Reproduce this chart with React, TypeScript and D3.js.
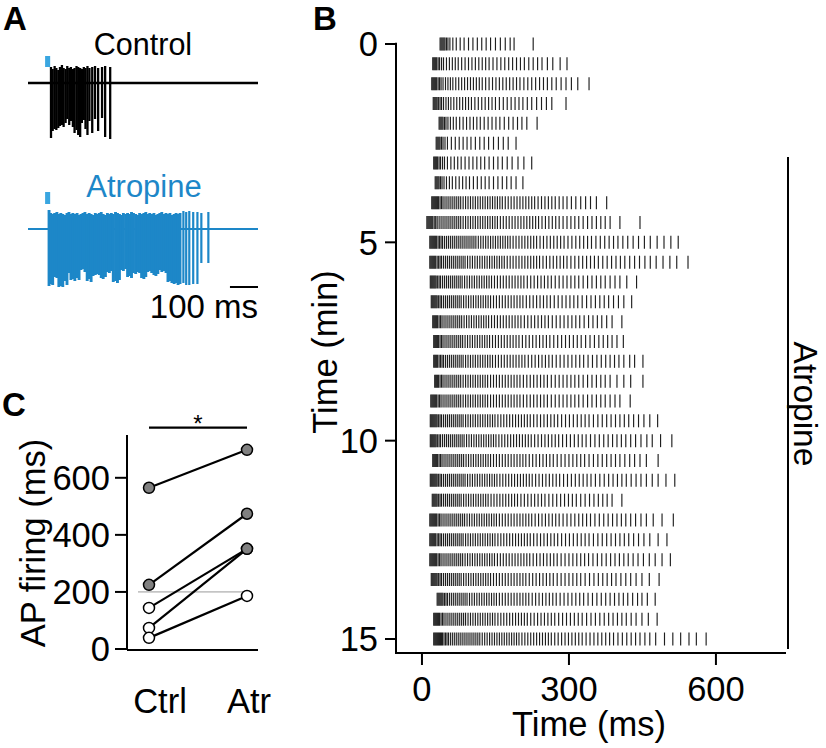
import React from 'react';
import * as d3 from 'd3';

// ---------- Panel A: example traces ----------
const traceWindowMs = [0, 820];
const stimWindowMs = [61, 79];
const scaleBarMs = 100;

const controlSpikeTimes = [82,88,95,101,108,114,121,127,134,140,147,153,160,166,173,179,186,192,199,205,212,219,229,239,250,264,275,293];
const controlSpikePeaks = [16,14,17,15,13,16,18,15,14,17,15,16,14,15,17,16,15,14,16,15,17,15,16,17,15,16,17,16];
const controlSpikeTroughs = [-55,-48,-46,-47,-45,-43,-42,-44,-40,-36,-42,-38,-44,-50,-47,-52,-54,-40,-37,-46,-52,-38,-50,-36,-48,-35,-54,-56];

const atropineSpikeTimes = [75,81,88,95,103,110,117,124,131,139,146,153,160,167,175,182,189,196,203,211,218,225,232,240,247,254,261,268,276,283,290,297,304,312,319,326,333,340,348,355,362,369,376,384,391,398,405,413,420,427,434,441,449,456,463,470,477,485,492,499,506,513,521,528,535,542,554,564,575,589,604,618,643];
const atropineSpikePeaks = [19,16,15,16,17,15,16,15,14,16,17,15,16,15,16,14,15,16,17,15,16,15,14,16,15,16,17,15,14,16,15,16,15,17,16,15,14,16,15,16,15,17,16,15,14,16,15,16,17,15,16,15,16,14,15,16,17,15,16,15,16,14,15,16,15,16,18,17,18,17,17,16,17];
const atropineSpikeTroughs = [-57,-55,-56,-48,-49,-58,-57,-58,-52,-56,-44,-51,-50,-52,-49,-51,-41,-40,-43,-52,-50,-53,-47,-46,-45,-46,-49,-50,-48,-43,-44,-42,-53,-52,-54,-51,-41,-42,-40,-48,-47,-49,-44,-45,-43,-44,-49,-50,-48,-43,-42,-44,-46,-47,-45,-41,-43,-42,-44,-53,-52,-54,-55,-54,-56,-55,-54,-56,-56,-55,-55,-34,-34];

// ---------- Panel B: raster ----------
const rasterRowMinutes = [0,0.5,1,1.5,2,2.5,3,3.5,4,4.5,5,5.5,6,6.5,7,7.5,8,8.5,9,9.5,10,10.5,11,11.5,12,12.5,13,13.5,14,14.5,15];
const rasterSpikes: number[][] = [
  [37,39,41,43,45,47,50,53,57,63,70,78,86,95,104,113,122,131,140,150,160,170,180,188,227],
  [22,24,26,28,30,33,36,40,44,50,56,62,68,74,81,88,95,102,109,116,123,130,137,145,153,161,169,177,185,193,201,209,218,227,236,245,256,267,282,296],
  [20,22,24,26,28,30,33,36,39,43,48,53,58,63,69,75,81,87,93,99,105,111,117,123,130,137,144,151,158,165,172,179,186,193,200,208,216,224,232,240,248,256,265,274,284,294,305,318,341],
  [23,25,27,29,31,34,37,40,44,49,54,59,65,71,77,83,89,95,101,108,115,122,129,136,143,150,158,166,174,182,190,198,206,215,224,234,244,254,265,294],
  [35,37,39,41,43,46,49,53,58,64,70,77,84,91,98,105,112,119,127,135,143,151,159,168,177,186,195,204,214,235],
  [29,31,33,35,37,40,43,47,52,60,68,76,84,92,100,109,118,127,136,146,156,166,176,192],
  [24,26,28,30,32,35,38,42,46,52,59,66,73,80,88,96,104,112,120,128,137,146,155,164,174,184,196,208,224],
  [27,29,31,33,35,38,41,45,50,56,62,69,76,83,90,97,105,113,121,129,137,146,155,164,173,182,192,206],
  [20,22,24,26,28,30,32,34,37,40,43,47,51,55,59,63,67,71,75,79,84,89,94,99,104,109,114,119,124,129,134,139,144,149,154,159,164,170,176,182,188,194,200,206,212,218,224,230,237,244,251,258,265,272,280,288,296,305,314,324,334,344,356,377],
  [10,12,14,16,18,20,22,25,28,31,35,39,43,47,51,55,59,63,67,71,75,79,84,89,94,99,104,109,114,119,124,129,134,139,144,149,154,160,166,172,178,184,190,196,202,208,214,220,226,232,238,245,252,259,266,273,280,288,296,304,312,320,329,338,347,356,365,374,384,404,445],
  [16,18,20,22,24,26,28,30,33,36,39,42,46,50,54,58,62,66,70,74,78,82,86,90,94,98,102,106,110,115,120,125,130,135,140,145,150,155,160,165,170,175,180,186,192,198,204,210,216,222,228,234,241,248,255,262,269,276,283,290,298,306,314,322,330,338,346,355,364,373,382,391,400,410,420,431,442,454,466,480,494,508,523],
  [16,18,20,22,24,26,28,31,34,37,40,44,48,52,56,60,64,68,72,76,80,84,88,93,98,103,108,113,118,123,128,133,138,143,148,153,158,163,168,174,180,186,192,198,204,210,216,222,228,234,240,247,254,261,268,275,282,289,296,304,312,320,328,336,344,352,360,369,378,387,396,405,414,424,434,444,455,466,478,492,506,520,543],
  [17,19,21,23,25,27,29,32,35,38,42,46,50,54,58,62,66,70,74,78,82,87,92,97,102,107,112,117,122,127,132,137,142,148,154,160,166,172,178,184,190,196,202,208,215,222,229,236,243,250,257,264,272,280,288,296,304,312,320,329,338,347,356,365,374,384,394,404,418,438],
  [19,21,23,25,27,29,31,34,37,40,44,48,52,56,60,64,68,72,76,80,85,90,95,100,105,110,115,120,125,130,135,140,146,152,158,164,170,176,182,188,194,200,206,213,220,227,234,241,248,255,262,270,278,286,294,302,310,318,327,336,345,354,363,372,381,391,401,412,428],
  [22,24,26,28,30,32,35,38,41,45,49,53,57,61,65,69,73,77,81,86,91,96,101,106,111,116,121,126,131,136,142,148,154,160,166,172,178,184,190,196,202,209,216,223,230,237,244,251,258,266,274,282,290,298,306,314,322,331,340,349,358,367,377,388,408],
  [24,26,28,30,32,34,37,40,43,47,51,55,59,63,67,71,75,79,83,88,93,98,103,108,113,118,123,128,133,138,144,150,156,162,168,174,180,186,192,198,205,212,219,226,233,240,247,254,261,269,277,285,293,301,309,317,325,334,343,352,361,370,379,388,398,411],
  [24,26,28,30,32,35,38,41,44,48,52,56,60,64,68,72,76,80,84,89,94,99,104,109,114,119,124,129,134,139,144,150,156,162,168,174,180,186,192,198,204,210,217,224,231,238,245,252,259,266,274,282,290,298,306,314,322,330,339,348,357,366,375,384,393,402,412,424,434,451],
  [26,28,30,32,34,37,40,43,47,51,55,59,63,67,71,75,79,84,89,94,99,104,109,114,119,124,129,134,140,146,152,158,164,170,176,182,188,194,200,207,214,221,228,235,242,249,256,264,272,280,288,296,304,312,320,329,338,347,356,365,374,384,398,412,426,451],
  [18,20,22,24,26,28,30,33,36,39,43,47,51,55,59,63,67,71,75,79,84,89,94,99,104,109,114,119,124,129,134,140,146,152,158,164,170,176,182,188,194,200,207,214,221,228,235,242,249,256,264,272,280,288,296,304,312,320,329,338,347,356,365,374,384,394,404,425],
  [17,19,21,23,25,27,29,31,34,37,40,44,48,52,56,60,64,68,72,76,80,84,89,94,99,104,109,114,119,124,129,134,139,144,149,155,161,167,173,179,185,191,197,203,209,215,221,228,235,242,249,256,263,270,277,285,293,301,309,317,325,333,341,350,359,368,377,386,395,404,413,422,432,442,453,465,481],
  [17,19,21,23,25,27,29,32,35,38,42,46,50,54,58,62,66,70,74,78,82,86,91,96,101,106,111,116,121,126,131,136,141,146,151,157,163,169,175,181,187,193,199,205,211,217,223,230,237,244,251,258,265,272,279,287,295,303,311,319,327,335,344,353,362,371,380,389,398,407,416,426,436,447,459,470,487,510],
  [22,24,26,28,30,32,35,38,41,45,49,53,57,61,65,69,73,77,81,85,90,95,100,105,110,115,120,125,130,135,140,146,152,158,164,170,176,182,188,194,200,206,212,219,226,233,240,247,254,261,268,276,284,292,300,308,316,324,332,341,350,359,368,377,386,395,404,414,424,434,445,458,482],
  [17,19,21,23,25,27,29,31,34,37,40,44,48,52,56,60,64,68,72,76,80,84,88,93,98,103,108,113,118,123,128,133,138,143,148,153,159,165,171,177,183,189,195,201,207,213,219,225,232,239,246,253,260,267,274,281,289,297,305,313,321,329,337,345,354,363,372,381,390,399,408,417,427,437,447,458,470,482,498,516],
  [21,23,25,27,29,31,34,37,40,44,48,52,56,60,64,68,72,76,80,85,90,95,100,105,110,115,120,125,130,135,141,147,153,159,165,171,177,183,189,195,202,209,216,223,230,237,244,251,259,267,275,283,291,299,307,315,324,333,342,351,360,369,378,388,408],
  [16,18,20,22,24,26,28,30,33,36,39,43,47,51,55,59,63,67,71,75,79,83,87,92,97,102,107,112,117,122,127,132,137,142,147,152,158,164,170,176,182,188,194,200,206,212,218,224,231,238,245,252,259,266,273,280,288,296,304,312,320,328,336,344,353,362,371,380,389,398,407,416,426,436,447,458,472,490,513],
  [16,18,20,22,24,26,28,31,34,37,40,44,48,52,56,60,64,68,72,76,80,84,89,94,99,104,109,114,119,124,129,134,139,144,149,155,161,167,173,179,185,191,197,203,209,215,221,228,235,242,249,256,263,270,277,285,293,301,309,317,325,333,341,350,359,368,377,386,395,404,413,422,432,442,453,465,482,500],
  [16,18,20,22,24,26,28,30,33,36,39,43,47,51,55,59,63,67,71,75,79,83,88,93,98,103,108,113,118,123,128,133,138,143,148,154,160,166,172,178,184,190,196,202,208,214,220,227,234,241,248,255,262,269,276,284,292,300,308,316,324,332,340,349,358,367,376,385,394,403,412,421,431,441,452,464,476,490,507],
  [19,21,23,25,27,29,31,34,37,40,44,48,52,56,60,64,68,72,76,80,85,90,95,100,105,110,115,120,125,130,135,140,146,152,158,164,170,176,182,188,194,200,206,212,219,226,233,240,247,254,261,268,276,284,292,300,308,316,324,333,342,351,360,369,378,387,396,406,416,426,437,449,464,484],
  [31,33,35,37,39,41,43,46,49,52,56,60,64,68,72,76,80,84,88,92,97,102,107,112,117,122,127,132,137,142,147,152,158,164,170,176,182,188,194,200,206,212,218,225,232,239,246,253,260,267,274,282,290,298,306,314,322,330,339,348,357,366,375,384,393,402,411,420,430,440,449,460,476],
  [24,26,28,30,32,34,36,39,42,45,49,53,57,61,65,69,73,77,81,85,89,94,99,104,109,114,119,124,129,134,139,144,149,155,161,167,173,179,185,191,197,203,209,215,222,229,236,243,250,257,264,271,279,287,295,303,311,319,327,336,345,354,363,372,381,390,399,408,417,427,437,449,462,480],
  [24,26,28,30,32,34,36,38,40,42,45,48,51,54,58,62,66,70,74,78,82,86,90,94,98,102,106,110,114,118,123,128,133,138,143,148,153,158,163,168,173,178,183,188,193,198,204,210,216,222,228,234,240,246,252,258,264,271,278,285,292,299,306,313,320,327,335,343,351,359,367,375,383,391,400,409,418,427,436,445,455,465,477,495,512,528,545,560,580],
];
const atropinePeriodMin = [2.85, 15.25];
const rasterXTicks = [0, 300, 600];
const rasterYTicks = [0, 5, 10, 15];

// ---------- Panel C: AP firing duration ----------
const firingGroups = ['Ctrl', 'Atr'];
const firingCtrl = [565, 225, 144, 74, 39];
const firingAtr = [698, 474, 351, 351, 186];
const firingCtrlFill = ['#808080', '#808080', '#ffffff', '#ffffff', '#ffffff'];
const firingAtrFill = ['#808080', '#808080', '#808080', '#808080', '#ffffff'];
const firingTicks = [0, 200, 400, 600];
const firingReference = 200;
const significanceLevel = 776;

const BLUE = '#1d87c8';
const STIM = '#3aa6e0';
const FONT = "'Liberation Sans', Arial, Helvetica, sans-serif";
const AX = 34.5;

export default function App() {
  // Panel A scales
  const tA = d3.scaleLinear().domain(traceWindowMs).range([28, 258]);
  const vCtrl = d3.scaleLinear().domain([0, 20]).range([83, 63]);
  const vAtr = d3.scaleLinear().domain([0, 20]).range([229, 209]);

  // Panel B scales
  const xB = d3.scaleLinear().domain([-53, 743]).range([396, 786]);
  const yB = d3.scaleLinear().domain([0, 15]).range([44, 639]);

  // Panel C scales
  const xC = d3.scalePoint<string>().domain(firingGroups).range([149, 247]);
  const yC = d3.scaleLinear().domain([0, 750]).range([649, 435]);

  const baseline = (v: d3.ScaleLinear<number, number>) =>
    d3.line<number>().x((t) => tA(t)).y(() => v(0))(traceWindowMs) || '';

  return (
    <svg width={826} height={748} style={{ position: 'absolute', left: 0, top: 0, background: '#fff' }} fontFamily={FONT}>
      {/* Panel letters */}
      <text x={3} y={30} fontSize={33} fontWeight="bold">A</text>
      <text x={313} y={30} fontSize={33} fontWeight="bold">B</text>
      <text x={2} y={416} fontSize={33} fontWeight="bold">C</text>

      {/* ----- Panel A ----- */}
      <text x={143} y={55} fontSize={30.5} textAnchor="middle">Control</text>
      <rect x={tA(stimWindowMs[0])} y={vCtrl(27)} width={tA(stimWindowMs[1]) - tA(stimWindowMs[0])} height={vCtrl(16) - vCtrl(27)} fill={STIM} />
      <path d={baseline(vCtrl)} stroke="#000" strokeWidth={2.4} fill="none" />
      {controlSpikeTimes.map((t, i) => (
        <line key={'c' + i} x1={tA(t)} x2={tA(t)} y1={vCtrl(controlSpikePeaks[i])} y2={vCtrl(controlSpikeTroughs[i])} stroke="#000" strokeWidth={2.3} />
      ))}

      <text x={144} y={197} fontSize={31} textAnchor="middle" fill={BLUE}>Atropine</text>
      <rect x={tA(stimWindowMs[0])} y={vAtr(37)} width={tA(stimWindowMs[1]) - tA(stimWindowMs[0])} height={vAtr(25) - vAtr(37)} fill={STIM} />
      <path d={baseline(vAtr)} stroke={BLUE} strokeWidth={1.8} fill="none" />
      {atropineSpikeTimes.map((t, i) => (
        <line key={'a' + i} x1={tA(t)} x2={tA(t)} y1={vAtr(atropineSpikePeaks[i])} y2={vAtr(atropineSpikeTroughs[i])} stroke={BLUE} strokeWidth={i < 66 ? 2.9 : 2.2} />
      ))}
      <line x1={tA(traceWindowMs[1] - scaleBarMs)} x2={tA(traceWindowMs[1])} y1={287} y2={287} stroke="#000" strokeWidth={2} />
      <text x={tA(traceWindowMs[1])} y={318} fontSize={33} textAnchor="end">100 ms</text>

      {/* ----- Panel B ----- */}
      {rasterSpikes.map((row, r) =>
        row.map((t, k) => (
          <line key={'r' + r + '-' + k} x1={xB(t)} x2={xB(t)} y1={yB(rasterRowMinutes[r]) - 6.5} y2={yB(rasterRowMinutes[r]) + 6.5} stroke="#1e1e1e" strokeWidth={1.15} />
        ))
      )}
      <line x1={396} x2={396} y1={yB(-0.03)} y2={653} stroke="#000" strokeWidth={2} />
      <line x1={395} x2={xB(743)} y1={653} y2={653} stroke="#000" strokeWidth={2} />
      {rasterYTicks.map((v) => (
        <g key={'yb' + v}>
          <line x1={385} x2={396} y1={yB(v)} y2={yB(v)} stroke="#000" strokeWidth={2} />
          <text x={378} y={yB(v)} dy="0.36em" fontSize={AX} textAnchor="end">{v}</text>
        </g>
      ))}
      {rasterXTicks.map((v) => (
        <g key={'xb' + v}>
          <line x1={xB(v)} x2={xB(v)} y1={653} y2={665} stroke="#000" strokeWidth={2} />
          <text x={xB(v)} y={701} fontSize={AX} textAnchor="middle">{v}</text>
        </g>
      ))}
      <text x={589} y={736} fontSize={AX} textAnchor="middle">Time (ms)</text>
      <text transform="translate(337,352) rotate(-90)" fontSize={AX} textAnchor="middle">Time (min)</text>
      <line x1={788} x2={788} y1={yB(atropinePeriodMin[0])} y2={yB(atropinePeriodMin[1])} stroke="#000" strokeWidth={2} />
      <text transform="translate(794,404) rotate(90)" fontSize={33.5} textAnchor="middle">Atropine</text>

      {/* ----- Panel C ----- */}
      <line x1={127} x2={127} y1={yC(750)} y2={650} stroke="#000" strokeWidth={2} />
      <line x1={127} x2={258} y1={650} y2={650} stroke="#000" strokeWidth={2} />
      {firingTicks.map((v) => (
        <g key={'yc' + v}>
          <line x1={115} x2={127} y1={yC(v)} y2={yC(v)} stroke="#000" strokeWidth={2} />
          <text x={110} y={yC(v)} dy="0.36em" fontSize={AX} textAnchor="end">{v}</text>
        </g>
      ))}
      <text transform="translate(45,543) rotate(-90)" fontSize={AX} textAnchor="middle">AP firing (ms)</text>
      <line x1={138} x2={252} y1={yC(firingReference)} y2={yC(firingReference)} stroke="#999" strokeWidth={1} />
      {firingCtrl.map((v, i) => (
        <line key={'pl' + i} x1={xC('Ctrl')!} x2={xC('Atr')!} y1={yC(v)} y2={yC(firingAtr[i])} stroke="#000" strokeWidth={2.2} />
      ))}
      {firingCtrl.map((v, i) => (
        <circle key={'pc' + i} cx={xC('Ctrl')!} cy={yC(v)} r={5.5} fill={firingCtrlFill[i]} stroke="#000" strokeWidth={1.5} />
      ))}
      {firingAtr.map((v, i) => (
        <circle key={'pa' + i} cx={xC('Atr')!} cy={yC(v)} r={5.5} fill={firingAtrFill[i]} stroke="#000" strokeWidth={1.5} />
      ))}
      <line x1={xC('Ctrl')!} x2={xC('Atr')!} y1={yC(significanceLevel)} y2={yC(significanceLevel)} stroke="#000" strokeWidth={2.2} />
      <text x={(xC('Ctrl')! + xC('Atr')!) / 2} y={432} fontSize={24} textAnchor="middle">*</text>
      <text x={xC('Ctrl')! + 11} y={713} fontSize={AX} textAnchor="middle">Ctrl</text>
      <text x={xC('Atr')! + 2} y={713} fontSize={AX} textAnchor="middle">Atr</text>
    </svg>
  );
}
